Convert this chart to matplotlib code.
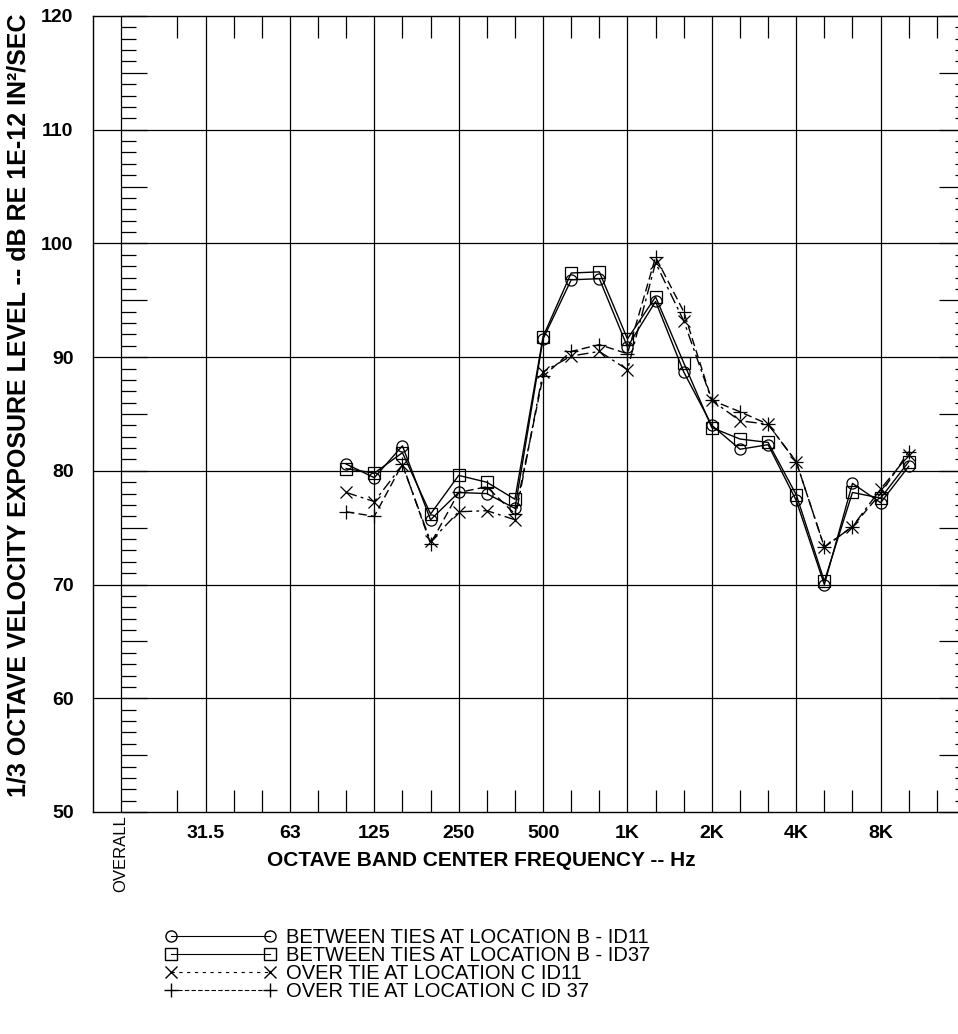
import numpy as np
import matplotlib.pyplot as plt
from matplotlib.lines import Line2D
from matplotlib.ticker import MultipleLocator
import matplotlib.transforms as mtransforms

plt.rcParams['font.family'] = ['Liberation Sans', 'DejaVu Sans']

# third-octave band centres, position 1 = 20 Hz, position 0 = OVERALL
thirds = ['20', '25', '31.5', '40', '50', '63', '80', '100', '125', '160', '200',
          '250', '315', '400', '500', '630', '800', '1K', '1.25K', '1.6K', '2K',
          '2.5K', '3.15K', '4K', '5K', '6.3K', '8K', '10K', '12.5K']
octave_labels = ['31.5', '63', '125', '250', '500', '1K', '2K', '4K', '8K']

# measured bands 100 Hz .. 10 kHz
bands = ['100', '125', '160', '200', '250', '315', '400', '500', '630', '800', '1K',
         '1.25K', '1.6K', '2K', '2.5K', '3.15K', '4K', '5K', '6.3K', '8K', '10K']

b_id11 = [80.6, 79.4, 82.2, 75.7, 78.1, 78.0, 76.7, 91.6, 96.8, 96.9, 90.9,
          94.9, 88.7, 84.0, 81.9, 82.3, 77.4, 70.0, 78.9, 77.2, 80.4]
b_id37 = [80.2, 79.8, 81.6, 76.2, 79.6, 79.0, 77.5, 91.8, 97.4, 97.5, 91.6,
          95.3, 89.5, 83.8, 82.8, 82.5, 77.9, 70.3, 78.1, 77.6, 80.8]
c_id11 = [78.1, 77.3, 80.5, 73.8, 76.4, 76.5, 75.7, 88.7, 90.1, 90.5, 88.9,
          98.3, 93.2, 86.2, 84.4, 84.1, 80.8, 73.3, 75.1, 78.4, 81.4]
c_id37 = [76.4, 76.0, 80.6, 73.6, 78.1, 78.6, 76.2, 88.3, 90.5, 91.1, 90.3,
          98.8, 94.0, 86.2, 85.2, 84.1, 80.8, 73.3, 75.1, 78.0, 81.7]

labels = ['BETWEEN TIES AT LOCATION B - ID11',
          'BETWEEN TIES AT LOCATION B - ID37',
          'OVER TIE AT LOCATION C ID11',
          'OVER TIE AT LOCATION C ID 37']

pos = {b: i + 1 for i, b in enumerate(thirds)}
x = [pos[b] for b in bands]
oct_x = [pos[b] for b in octave_labels]

fig = plt.figure(figsize=(9.58, 10.34), dpi=100)
ax = fig.add_axes([93 / 958, 1 - 812 / 1034, 872 / 958, 796 / 1034])
ax.set_xlim(-1, 30)
ax.set_ylim(50, 120)

# grid
for xv in oct_x:
    ax.axvline(xv, color='black', lw=0.9, zorder=1)
ax.axvline(0, color='black', lw=0.9, zorder=1)
for yv in range(60, 120, 10):
    ax.axhline(yv, color='black', lw=0.9, zorder=1)

# data
st = dict(color='black', lw=1.0, ms=8, mew=0.9, zorder=3)
l1, = ax.plot(x, b_id11, marker='o', mfc='none', ls='-', **st)
l2, = ax.plot(x, b_id37, marker='s', mfc='none', ls='-', **st)
l3, = ax.plot(x, c_id11, marker='x', ls=(0, (8, 3, 2, 3)), **st)
l4, = ax.plot(x, c_id37, marker='+', ls=(0, (6, 3)), **{**st, 'ms': 10})

# x ticks
ax.set_xticks(oct_x)
ax.set_xticklabels(octave_labels, fontsize=14, fontweight='bold')
ax.tick_params(axis='x', which='major', length=0, pad=9.5)
ax.set_xticks([p for p in range(2, 30) if p not in oct_x], minor=True)
ax.tick_params(axis='x', which='minor', direction='in', length=16,
               top=True, bottom=True, width=0.9)

# y ticks
ax.yaxis.set_major_locator(MultipleLocator(10))
ax.tick_params(axis='y', which='major', left=False, right=False, length=0,
               labelsize=14, pad=14)
for t in ax.get_yticklabels():
    t.set_fontweight('bold')
ax.tick_params(axis='y', which='minor', left=False, right=False)

# inner tick scale on OVERALL line
sec = ax.secondary_yaxis(1 / 31)
sec.yaxis.set_major_locator(MultipleLocator(5))
sec.yaxis.set_minor_locator(MultipleLocator(1))
sec.tick_params(which='major', direction='in', length=19, width=0.9, labelleft=False)
sec.tick_params(which='minor', direction='in', length=11, width=0.9)
sec.spines['left'].set_visible(False)

# right tick scale
sec2 = ax.secondary_yaxis('right')
sec2.yaxis.set_major_locator(MultipleLocator(5))
sec2.yaxis.set_minor_locator(MultipleLocator(1))
sec2.tick_params(which='major', direction='in', length=19, width=0.9, labelright=False)
sec2.tick_params(which='minor', direction='in', length=7, width=0.9)

for s in ax.spines.values():
    s.set_linewidth(1.0)

trans = mtransforms.blended_transform_factory(ax.transData, ax.transAxes)
ax.text(0, -0.004, 'OVERALL', transform=trans, rotation=90, ha='center',
        va='top', fontsize=12)

fig.text(481 / 958, 1 - 860 / 1034, 'OCTAVE BAND CENTER FREQUENCY -- Hz',
         ha='center', va='center', fontsize=15, fontweight='bold')
fig.text(19 / 958, 1 - 405 / 1034,
         '1/3 OCTAVE VELOCITY EXPOSURE LEVEL -- dB RE 1E-12 IN²/SEC',
         ha='center', va='center', rotation=90, fontsize=18, fontweight='bold')

handles = [Line2D([], [], color='black', lw=0.8, marker='o', mfc='none', ms=8),
           Line2D([], [], color='black', lw=0.8, marker='s', mfc='none', ms=8),
           Line2D([], [], color='black', lw=0.8, marker='x', ms=8, ls=(0, (3, 4))),
           Line2D([], [], color='black', lw=0.8, marker='+', ms=10, ls=(0, (4, 2)))]
fig.legend(handles, labels, loc='upper left', bbox_to_anchor=(165 / 958, 1 - 928 / 1034),
           numpoints=2, handlelength=5.5, handletextpad=0.5, labelspacing=-0.05,
           frameon=False, fontsize=14.5, borderpad=0, borderaxespad=0)

plt.savefig('out.png', dpi=100)
